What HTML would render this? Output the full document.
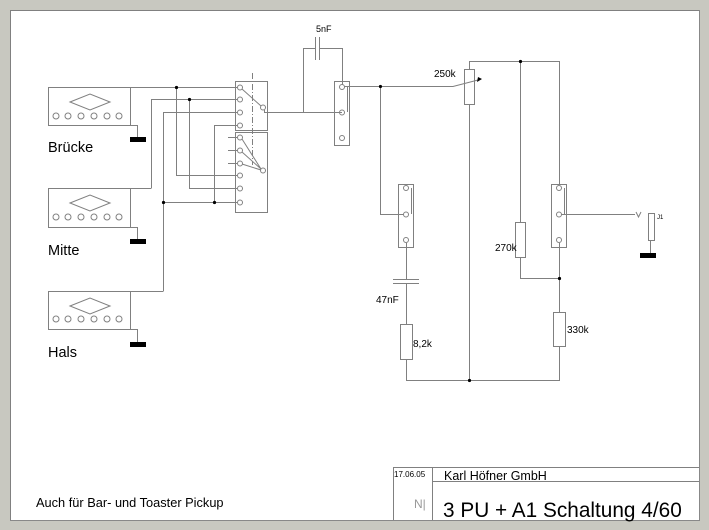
<!DOCTYPE html>
<html><head><meta charset="utf-8"><style>
html,body{margin:0;padding:0;background:#c8c8c0;}
svg{display:block;}
text{font-family:"Liberation Sans",Arial,sans-serif;fill:#000;}
</style></head><body>
<svg width="709" height="530" viewBox="0 0 709 530" xmlns="http://www.w3.org/2000/svg">
<rect x="0" y="0" width="709" height="530" fill="#c8c8c0"/>
<rect x="10" y="10" width="689" height="510" fill="#fff"/>
<path d="M10.5 10 V520 M10 10.5 H699" stroke="#808080" stroke-width="1"/>
<path d="M699.5 10 V521 M10 520.5 H700" stroke="#888" stroke-width="1"/>

<g fill="none" stroke="#808080" stroke-width="1">
<rect x="48.5" y="87.5" width="82" height="38"/>
<rect x="48.5" y="188.5" width="82" height="39"/>
<rect x="48.5" y="291.5" width="82" height="38"/>
<path d="M70 102 L90 94 L110 102 L90 110 Z"/>
<path d="M70 203 L90 195 L110 203 L90 211 Z"/>
<path d="M70 306 L90 298 L110 306 L90 314 Z"/>
<g>
<circle cx="56" cy="116" r="3"/><circle cx="68" cy="116" r="3"/><circle cx="81" cy="116" r="3"/><circle cx="94" cy="116" r="3"/><circle cx="107" cy="116" r="3"/><circle cx="119" cy="116" r="3"/>
<circle cx="56" cy="217" r="3"/><circle cx="68" cy="217" r="3"/><circle cx="81" cy="217" r="3"/><circle cx="94" cy="217" r="3"/><circle cx="107" cy="217" r="3"/><circle cx="119" cy="217" r="3"/>
<circle cx="56" cy="319" r="3"/><circle cx="68" cy="319" r="3"/><circle cx="81" cy="319" r="3"/><circle cx="94" cy="319" r="3"/><circle cx="107" cy="319" r="3"/><circle cx="119" cy="319" r="3"/>
</g>
<path d="M130 125.5 H137.5 V138 M130 227.5 H137.5 V240 M130 329.5 H137.5 V342"/>

<path d="M130 87.5 H237"/>
<path d="M151.5 188 V99.5 H237 M130 188.5 H151.5"/>
<path d="M163.5 291 V112.5 H237 M130 291.5 H163.5"/>
<path d="M214.5 202 V125.5 H237"/>
<path d="M176.5 87.5 V175.5 H237"/>
<path d="M189.5 99.5 V188.5 H237"/>
<path d="M163.5 202.5 H237"/>
<path d="M228 137.5 H237 M228 150.5 H237 M228 163.5 H237"/>
<rect x="235.5" y="81.5" width="32" height="49"/>
<rect x="235.5" y="132.5" width="32" height="80"/>
<circle cx="240" cy="87.5" r="2.5"/><circle cx="240" cy="99.5" r="2.5"/><circle cx="240" cy="112.5" r="2.5"/><circle cx="240" cy="125.5" r="2.5"/>
<circle cx="240" cy="137.5" r="2.5"/><circle cx="240" cy="150.5" r="2.5"/><circle cx="240" cy="163.5" r="2.5"/><circle cx="240" cy="175.5" r="2.5"/><circle cx="240" cy="188.5" r="2.5"/><circle cx="240" cy="202.5" r="2.5"/>
<circle cx="263" cy="107.5" r="2.5"/><circle cx="263" cy="170.5" r="2.5"/>
<path d="M242 89 L261 106 M242 139 L261 169 M242 152 L261 169 M242 164 L261 170"/>
<path d="M252.5 73 V165" stroke-dasharray="6,2,1,2"/>
<path d="M264.5 110 V112.5 H342"/>
<path d="M303.5 112 V48.5 H315.5 M319.5 48.5 H342.5 V85"/>
<path d="M315.5 37 V60 M319.5 37 V60"/>
<rect x="334.5" y="81.5" width="15" height="64"/>
<circle cx="342" cy="87" r="2.5"/><circle cx="342" cy="112.5" r="2.5"/><circle cx="342" cy="138" r="2.5"/>
<path d="M347.5 87 V112"/>
<path d="M344 86.5 H453 L478 80"/>
<rect x="464.5" y="69.5" width="10" height="35"/>
<path d="M469.5 69 V61.5 H559.5 V184"/>
<path d="M469.5 104 V380.5"/>
<path d="M380.5 86 V214.5 H404"/>
<rect x="398.5" y="184.5" width="15" height="63"/>
<circle cx="406" cy="188" r="2.5"/><circle cx="406" cy="214.5" r="2.5"/><circle cx="406" cy="240" r="2.5"/>
<path d="M411.5 188 V214"/>
<path d="M406.5 243 V279.5 M406.5 283.5 V324"/>
<path d="M393 279.5 H419 M393 283.5 H419"/>
<rect x="400.5" y="324.5" width="12" height="35"/>
<path d="M406.5 360 V380.5 H559.5 V346"/>
<path d="M520.5 61 V222"/>
<rect x="515.5" y="222.5" width="10" height="35"/>
<path d="M520.5 257 V278.5 H559.5"/>
<rect x="551.5" y="184.5" width="15" height="63"/>
<circle cx="559" cy="188" r="2.5"/><circle cx="559" cy="214.5" r="2.5"/><circle cx="559" cy="240" r="2.5"/>
<path d="M564.5 188 V214"/>
<path d="M561 214.5 H635"/>
<path d="M636 212 L638.5 217 L641 212"/>
<rect x="648.5" y="213.5" width="6" height="27"/>
<path d="M650.5 240 V253"/>
<path d="M559.5 243 V312"/>
<rect x="553.5" y="312.5" width="12" height="34"/>
<path d="M393.5 467 V520 M393 467.5 H699 M432.5 467 V520 M432 481.5 H699"/>
</g>
<polygon points="478,77 482,79 477,82" fill="#000"/>
<g fill="#000">
<circle cx="176.5" cy="87.5" r="1.6"/><circle cx="189.5" cy="99.5" r="1.6"/><circle cx="163.5" cy="202.5" r="1.6"/><circle cx="214.5" cy="202.5" r="1.6"/>
<circle cx="380.5" cy="86.5" r="1.6"/><circle cx="520.5" cy="61.5" r="1.6"/><circle cx="469.5" cy="380.5" r="1.6"/><circle cx="559.5" cy="278.5" r="1.6"/>
<rect x="130" y="137" width="16" height="5"/>
<rect x="130" y="239" width="16" height="5"/>
<rect x="130" y="342" width="16" height="5"/>
<rect x="640" y="253" width="16" height="5"/>
</g>

<text x="48" y="152" font-size="14.5">Brücke</text>
<text x="48" y="255" font-size="14.5">Mitte</text>
<text x="48" y="357" font-size="14.5">Hals</text>
<text x="316" y="32" font-size="9">5nF</text>
<text x="434" y="77" font-size="10">250k</text>
<text x="376" y="303" font-size="10">47nF</text>
<text x="413" y="347" font-size="10">8,2k</text>
<text x="495" y="251" font-size="10">270k</text>
<text x="567" y="333" font-size="10">330k</text>
<text x="657" y="219" font-size="6">J1</text>
<text x="36" y="507" font-size="12.8">Auch für Bar- und Toaster Pickup</text>
<text x="394" y="477" font-size="8">17.06.05</text>
<text x="444" y="480" font-size="12.5">Karl Höfner GmbH</text>
<text x="443" y="517" font-size="20.8">3 PU + A1 Schaltung 4/60</text>
<text x="414" y="508" font-size="12" style="fill:#999">N|</text>
</svg>
</body></html>
